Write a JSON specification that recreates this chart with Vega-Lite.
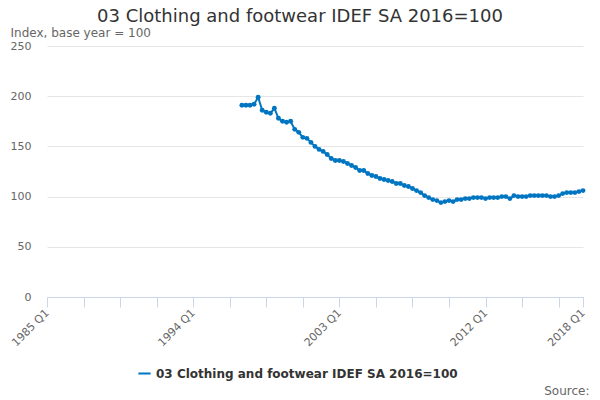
{
  "$schema": "https://vega.github.io/schema/vega-lite/v6.json",
  "autosize": "none",
  "width": 536,
  "height": 251,
  "padding": {"left": 47, "top": 46, "right": 17, "bottom": 103},
  "background": "white",
  "title": {
    "text": "03 Clothing and footwear IDEF SA 2016=100",
    "font": "DejaVu Sans",
    "fontSize": 18,
    "fontWeight": "normal",
    "color": "#333333",
    "anchor": "middle",
    "dx": -15,
    "offset": 0
  },
  "config": {
    "view": {"stroke": null},
    "font": "DejaVu Sans"
  },
  "data": {
    "values": [
      {"q": 48, "v": 191}, {"q": 49, "v": 191}, {"q": 50, "v": 191}, {"q": 51, "v": 192},
      {"q": 52, "v": 199}, {"q": 53, "v": 186}, {"q": 54, "v": 184}, {"q": 55, "v": 183},
      {"q": 56, "v": 188}, {"q": 57, "v": 178}, {"q": 58, "v": 175}, {"q": 59, "v": 174},
      {"q": 60, "v": 175}, {"q": 61, "v": 167}, {"q": 62, "v": 164}, {"q": 63, "v": 159},
      {"q": 64, "v": 158}, {"q": 65, "v": 154}, {"q": 66, "v": 150}, {"q": 67, "v": 147},
      {"q": 68, "v": 145}, {"q": 69, "v": 142}, {"q": 70, "v": 138}, {"q": 71, "v": 136},
      {"q": 72, "v": 136}, {"q": 73, "v": 135}, {"q": 74, "v": 133}, {"q": 75, "v": 131},
      {"q": 76, "v": 129}, {"q": 77, "v": 126}, {"q": 78, "v": 126}, {"q": 79, "v": 123},
      {"q": 80, "v": 121}, {"q": 81, "v": 120}, {"q": 82, "v": 118}, {"q": 83, "v": 117},
      {"q": 84, "v": 116}, {"q": 85, "v": 115}, {"q": 86, "v": 113}, {"q": 87, "v": 113},
      {"q": 88, "v": 111}, {"q": 89, "v": 110}, {"q": 90, "v": 108}, {"q": 91, "v": 106},
      {"q": 92, "v": 104}, {"q": 93, "v": 101}, {"q": 94, "v": 99}, {"q": 95, "v": 97},
      {"q": 96, "v": 96}, {"q": 97, "v": 94}, {"q": 98, "v": 95}, {"q": 99, "v": 96},
      {"q": 100, "v": 95}, {"q": 101, "v": 97}, {"q": 102, "v": 97}, {"q": 103, "v": 98},
      {"q": 104, "v": 98}, {"q": 105, "v": 99}, {"q": 106, "v": 99}, {"q": 107, "v": 99},
      {"q": 108, "v": 98}, {"q": 109, "v": 99}, {"q": 110, "v": 99}, {"q": 111, "v": 99},
      {"q": 112, "v": 100}, {"q": 113, "v": 100}, {"q": 114, "v": 98}, {"q": 115, "v": 101},
      {"q": 116, "v": 100}, {"q": 117, "v": 100}, {"q": 118, "v": 100}, {"q": 119, "v": 101},
      {"q": 120, "v": 101}, {"q": 121, "v": 101}, {"q": 122, "v": 101}, {"q": 123, "v": 101},
      {"q": 124, "v": 100}, {"q": 125, "v": 100}, {"q": 126, "v": 101}, {"q": 127, "v": 103},
      {"q": 128, "v": 104}, {"q": 129, "v": 104}, {"q": 130, "v": 104}, {"q": 131, "v": 105},
      {"q": 132, "v": 106}
    ]
  },
  "mark": {
    "type": "line",
    "color": "#0075c2",
    "strokeWidth": 2,
    "point": {"filled": true, "size": 24, "color": "#0075c2", "shape": "circle"}
  },
  "encoding": {
    "x": {
      "field": "q",
      "type": "quantitative",
      "scale": {"domain": [0, 132], "nice": false, "zero": false},
      "axis": {
        "values": [0, 9, 18, 27, 36, 45, 54, 63, 72, 81, 90, 99, 108, 117, 126, 132],
        "labelExpr": "(datum.value % 36 == 0 || datum.value == 132) ? (1985 + floor(datum.value / 4)) + ' Q' + (datum.value % 4 + 1) : ''",
        "labelAngle": -45,
        "labelAlign": "right",
        "labelBaseline": "middle",
        "labelFontSize": 11,
        "labelColor": "#666666",
        "labelPadding": 4,
        "labelOverlap": false,
        "labelFlush": false,
        "domainColor": "#ccd6eb",
        "tickColor": "#ccd6eb",
        "tickSize": 10,
        "grid": false,
        "title": "Source:",
        "titleFontSize": 12,
        "titleFontWeight": "normal",
        "titleColor": "#666666",
        "titleAnchor": "end",
        "titleAlign": "right",
        "titleBaseline": "middle",
        "titleX": 542,
        "titleY": 93
      }
    },
    "y": {
      "field": "v",
      "type": "quantitative",
      "scale": {"domain": [0, 250], "nice": false},
      "axis": {
        "values": [0, 50, 100, 150, 200, 250],
        "domain": false,
        "ticks": false,
        "gridColor": "#e6e6e6",
        "labelFontSize": 11,
        "labelColor": "#666666",
        "labelPadding": 16,
        "title": "Index, base year = 100",
        "titleAngle": 0,
        "titleAlign": "left",
        "titleBaseline": "middle",
        "titleFontSize": 12,
        "titleFontWeight": "normal",
        "titleColor": "#666666",
        "titleX": -37,
        "titleY": -14
      }
    },
    "color": {
      "datum": "03 Clothing and footwear IDEF SA 2016=100",
      "type": "nominal",
      "scale": {"range": ["#0075c2"]},
      "legend": {
        "title": null,
        "orient": "none",
        "legendX": 90,
        "legendY": 320,
        "symbolType": "stroke",
        "symbolStrokeWidth": 2,
        "symbolSize": 150,
        "labelFontSize": 12,
        "labelFontWeight": "bold",
        "labelColor": "#333333",
        "labelLimit": 400
      }
    }
  }
}
